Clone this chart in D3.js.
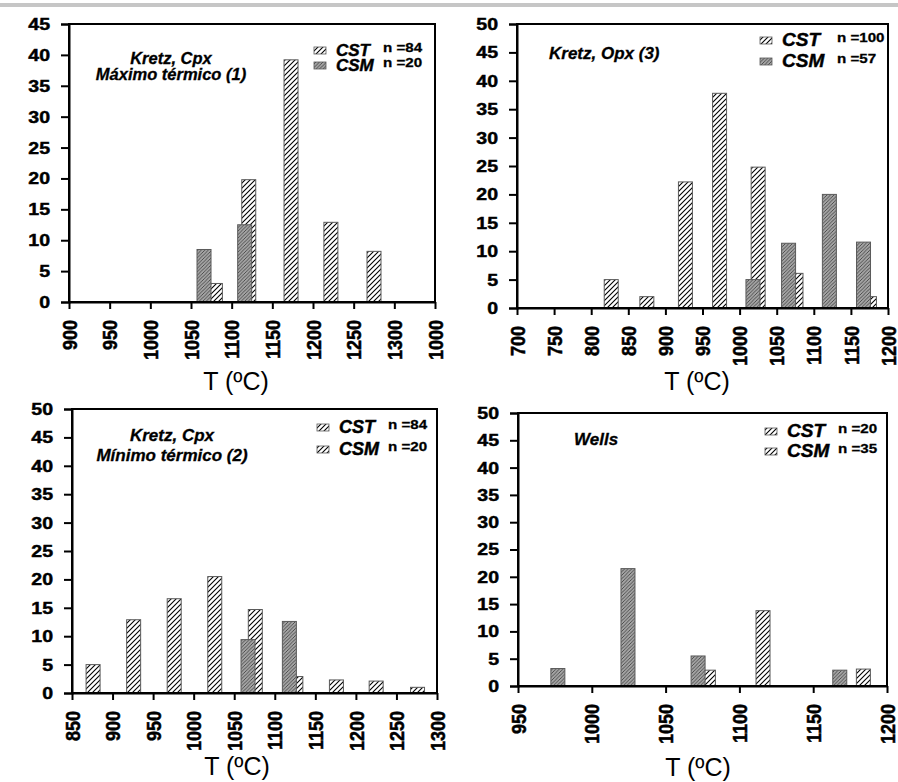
<!DOCTYPE html>
<html>
<head>
<meta charset="utf-8">
<script src="https://cdn.jsdelivr.net/npm/d3@7"></script>
<style>
  body { margin: 0; background: #fff; }
  svg text { font-family: "Liberation Sans", Arial, sans-serif; fill: #000; }
  svg text.b, svg text.bi { font-weight: 700; stroke: #000; stroke-width: 0.45px; }
  svg text.bi { font-style: italic; }
</style>
</head>
<body>
<svg id="chart"></svg>
<script>
// --- data (percent of analyses per temperature bin) ---
const p1Ticks = [900, 950, 1000, 1050, 1100, 1150, 1200, 1250, 1300, 1350];
const p1TickLabels = ["900", "950", "1000", "1050", "1100", "1150", "1200", "1250", "1300", "1000"];
const p1CstT = [1080, 1121, 1173, 1222, 1275];
const p1CstV = [3, 19.8, 39.2, 12.9, 8.2];
const p1CsmT = [1066, 1116];
const p1CsmV = [8.5, 12.5];
const p1Notes = ["Kretz, Cpx", "Máximo térmico (1)"];
const p1N = ["n =84", "n =20"];

const p2Ticks = [700, 750, 800, 850, 900, 950, 1000, 1050, 1100, 1150, 1200];
const p2TickLabels = p2Ticks.map(String);
const p2CstT = [827, 875, 927, 973, 1025, 1076, 1175];
const p2CstV = [5, 2, 22.2, 37.8, 24.8, 6.1, 2];
const p2CsmT = [1018, 1066, 1121, 1167];
const p2CsmV = [5, 11.4, 20, 11.6];
const p2Notes = ["Kretz, Opx (3)"];
const p2N = ["n =100", "n =57"];

const p3Ticks = [850, 900, 950, 1000, 1050, 1100, 1150, 1200, 1250, 1300];
const p3TickLabels = p3Ticks.map(String);
const p3CstT = [876, 926, 976, 1026, 1076, 1126, 1176, 1225, 1276];
const p3CstV = [5, 12.9, 16.6, 20.5, 14.7, 2.9, 2.3, 2.1, 1.0];
const p3CsmT = [1067, 1118];
const p3CsmV = [9.4, 12.6];
const p3Notes = ["Kretz, Cpx", "Mínimo térmico (2)"];
const p3N = ["n =84", "n =20"];

const p4Ticks = [950, 1000, 1050, 1100, 1150, 1200];
const p4TickLabels = p4Ticks.map(String);
const p4CstT = [1079, 1116, 1184];
const p4CstV = [2.9, 13.8, 3.1];
const p4CsmT = [977, 1024.5, 1072, 1168];
const p4CsmV = [3.2, 21.5, 5.5, 2.9];
const p4Notes = ["Wells"];
const p4N = ["n =20", "n =35"];

const series = ["CST", "CSM"];
const xTitle = "T (ºC)";

// --- layout ---
const W = 898, H = 782;
const barW = 14;

const panels = [
  { ticks: p1Ticks, labels: p1TickLabels, yMax: 45, cst: [p1CstT, p1CstV], csm: [p1CsmT, p1CsmV],
    notes: p1Notes, n: p1N, box: { l: 69, r: 435, t: 24, b: 302 },
    noteAt: { x: 171, y: 64, dy: 16, size: 16.5, anchor: "middle" },
    legend: { x: 314, y: 56, dy: 15, size: 17, nx: 383, swatch: ["cst", "csm"] },
    title: [236, 390] },
  { ticks: p2Ticks, labels: p2TickLabels, yMax: 50, cst: [p2CstT, p2CstV], csm: [p2CsmT, p2CsmV],
    notes: p2Notes, n: p2N, box: { l: 517, r: 888, t: 24, b: 308 },
    noteAt: { x: 549, y: 59, dy: 16, size: 17, anchor: "start" },
    legend: { x: 760, y: 46, dy: 21, size: 19, nx: 837, swatch: ["cst", "csm"] },
    title: [697, 390] },
  { ticks: p3Ticks, labels: p3TickLabels, yMax: 50, cst: [p3CstT, p3CstV], csm: [p3CsmT, p3CsmV],
    notes: p3Notes, n: p3N, box: { l: 72, r: 437, t: 409, b: 693 },
    noteAt: { x: 172, y: 441, dy: 20, size: 17, anchor: "middle" },
    legend: { x: 317, y: 433, dy: 22, size: 18, nx: 388, swatch: ["cst", "cst"] },
    title: [237, 775] },
  { ticks: p4Ticks, labels: p4TickLabels, yMax: 50, cst: [p4CstT, p4CstV], csm: [p4CsmT, p4CsmV],
    notes: p4Notes, n: p4N, box: { l: 518, r: 887, t: 413, b: 686 },
    noteAt: { x: 574, y: 445, dy: 16, size: 17, anchor: "start" },
    legend: { x: 765, y: 437, dy: 20, size: 19, nx: 838, swatch: ["cst", "cst"] },
    title: [698, 776] },
];

const svg = d3.select("#chart").attr("width", W).attr("height", H);

// hatch fills
const defs = svg.append("defs");
const cstPat = defs.append("pattern").attr("id", "cst")
  .attr("patternUnits", "userSpaceOnUse").attr("width", 5).attr("height", 5);
cstPat.append("rect").attr("width", 5).attr("height", 5).attr("fill", "#fff");
cstPat.append("path").attr("d", "M0,5 L5,0 M-1,1 L1,-1 M4,6 L6,4")
  .attr("stroke", "#000").attr("stroke-width", 1.1);

const csmPat = defs.append("pattern").attr("id", "csm")
  .attr("patternUnits", "userSpaceOnUse").attr("width", 3.5).attr("height", 3.5);
csmPat.append("rect").attr("width", 3.5).attr("height", 3.5).attr("fill", "#a3a3a3");
csmPat.append("path").attr("d", "M0,3.5 L3.5,0 M-1,1 L1,-1 M2.5,4.5 L4.5,2.5")
  .attr("stroke", "#3a3a3a").attr("stroke-width", 0.8);

// thin grey rule across the top
svg.append("rect").attr("x", 0).attr("y", 3).attr("width", W).attr("height", 4).attr("fill", "#c6c6c6");

panels.forEach(drawPanel);

function drawPanel(p) {
  const { l, r, t, b } = p.box;
  const x = d3.scaleLinear().domain(d3.extent(p.ticks)).range([l, r]);
  const y = d3.scaleLinear().domain([0, p.yMax]).range([b, t]);
  const g = svg.append("g");

  // CST first, CSM on top (as in the original)
  const bars = [
    { key: "cst", t: p.cst[0], v: p.cst[1] },
    { key: "csm", t: p.csm[0], v: p.csm[1] },
  ];
  bars.forEach((s) => {
    g.append("g")
      .selectAll("rect")
      .data(d3.zip(s.t, s.v))
      .join("rect")
      .attr("x", (d) => x(d[0]) - barW / 2)
      .attr("y", (d) => y(d[1]))
      .attr("width", barW)
      .attr("height", (d) => y(0) - y(d[1]))
      .attr("fill", `url(#${s.key})`)
      .attr("stroke", "#5a5a5a")
      .attr("stroke-width", 1);
  });

  g.append("rect")
    .attr("x", l).attr("y", t).attr("width", r - l).attr("height", b - t)
    .attr("fill", "none").attr("stroke", "#000").attr("stroke-width", 2);

  const yAxis = g.append("g")
    .attr("transform", `translate(${l},0)`)
    .call(d3.axisLeft(y).tickValues(d3.range(0, p.yMax + 1, 5)).tickSize(8).tickPadding(11));
  yAxis.selectAll("text")
    .attr("class", "b")
    .attr("x", -19 / 1.15)
    .attr("transform", "scale(1.15,1)")
    .style("font-size", "17px");

  const xAxis = g.append("g")
    .attr("transform", `translate(0,${b})`)
    .call(d3.axisBottom(x).tickValues(p.ticks).tickFormat((d, i) => p.labels[i]).tickSize(7).tickSizeOuter(0));
  xAxis.selectAll("text")
    .attr("class", "b")
    .attr("y", 0).attr("x", -18).attr("dy", "0.36em")
    .attr("text-anchor", "end")
    .attr("transform", "scale(1.1,1) rotate(-90)")
    .style("font-size", "18px");

  [yAxis, xAxis].forEach((a) => {
    a.attr("font-family", null).attr("font-size", null);
    a.select(".domain").attr("stroke-width", 2).attr("stroke", "#000");
    a.selectAll(".tick line").attr("stroke-width", 2).attr("stroke", "#000");
  });

  // notes
  g.selectAll("text.note")
    .data(p.notes)
    .join("text")
    .attr("class", "note bi")
    .attr("x", p.noteAt.x)
    .attr("y", (d, i) => p.noteAt.y + i * p.noteAt.dy)
    .attr("text-anchor", p.noteAt.anchor)
    .style("font-size", p.noteAt.size + "px")
    .style("stroke-width", "0.3px")
    .text((d) => d);

  // legend
  const lg = p.legend;
  series.forEach((name, i) => {
    const yy = lg.y + i * lg.dy;
    g.append("rect")
      .attr("x", lg.x).attr("y", yy - 9).attr("width", 12).attr("height", 7)
      .attr("fill", `url(#${lg.swatch[i]})`).attr("stroke", "#5a5a5a").attr("stroke-width", 0.8);
    g.append("text")
      .attr("class", "bi")
      .attr("x", lg.x + 22).attr("y", yy)
      .style("font-size", lg.size + "px")
      .text(name);
    g.append("text")
      .attr("class", "b")
      .attr("transform", `translate(${lg.nx},${yy - 4}) scale(1.12,1)`)
      .style("font-size", "13.5px")
      .style("stroke-width", "0.3px")
      .text(p.n[i]);
  });

  g.append("text")
    .attr("x", p.title[0]).attr("y", p.title[1])
    .attr("text-anchor", "middle")
    .style("font-size", "25px")
    .text(xTitle);
}
</script>
</body>
</html>
